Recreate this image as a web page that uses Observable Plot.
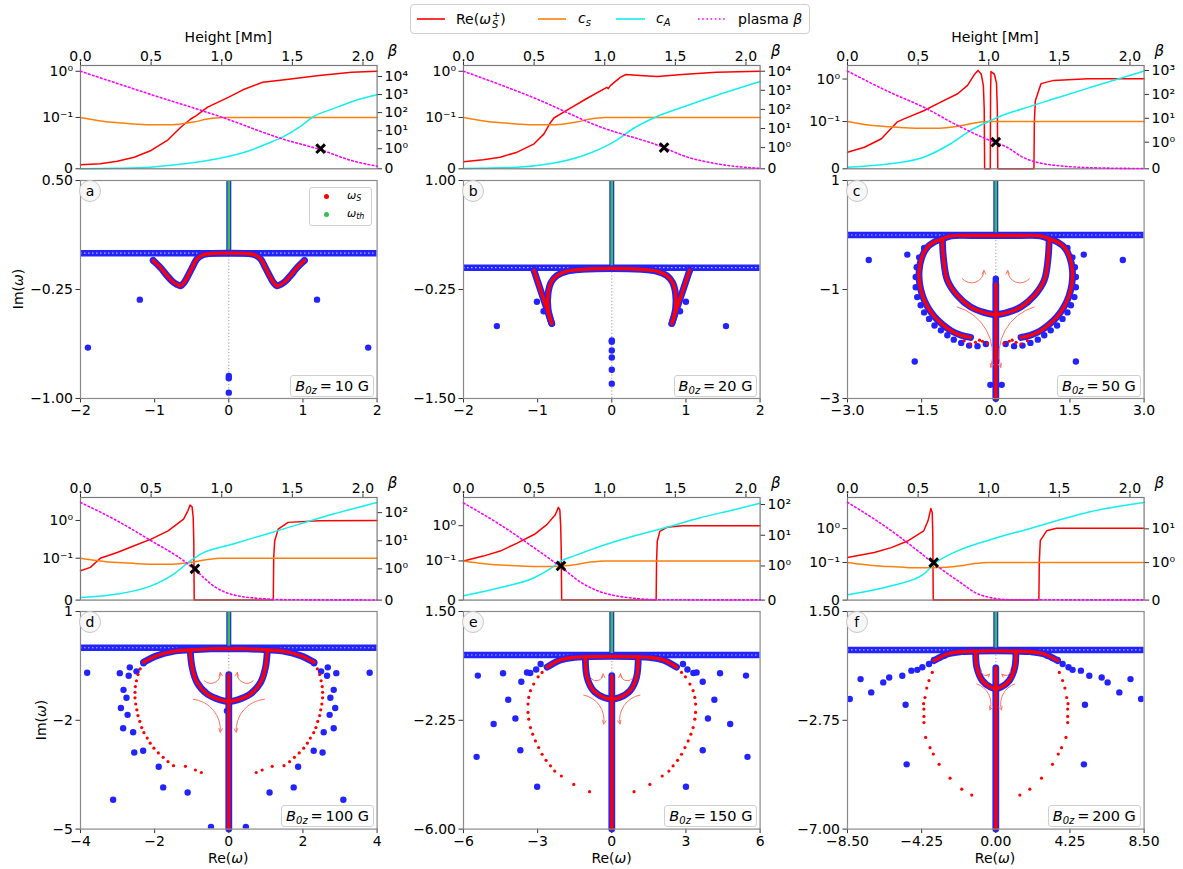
<!DOCTYPE html>
<html><head><meta charset="utf-8">
<script src="https://cdn.jsdelivr.net/npm/d3@7"></script>
<script src="https://cdn.jsdelivr.net/npm/@observablehq/plot@0.6"></script>
<style>
body{margin:0;background:#fff;font-family:"DejaVu Sans",sans-serif;}
#root{position:relative;width:1183px;height:869px;overflow:hidden;background:#fff;}
.abs{position:absolute;}
.lbl{position:absolute;white-space:nowrap;font-size:14px;line-height:1;color:#000;transform:translate(-50%,-50%);}
.sub{font-size:10px;vertical-align:-3px;}
.ss{display:inline-flex;flex-direction:column;font-size:10px;line-height:9px;vertical-align:5px;margin-left:1px;}
</style></head><body><div id="root"></div>
<script>
// ---------------- DATA: vertical profiles (height [Mm], value) ----------------
const heightTicks = [0, 0.5, 1, 1.5, 2];
const speedTicks = [0, 0.1, 1];
const speedTickLabels = ["0", "10\u207B\u00B9", "10\u2070"];
const betaTicks = [0, 1, 10, 100, 1000, 10000];
const betaTickLabels = ["0", "10\u2070", "10\u00B9", "10\u00B2", "10\u00B3", "10\u2074"];

const soundSpeed = [[0,0.1],[0.1,0.095],[0.2,0.091],[0.3,0.089],[0.4,0.087],[0.5,0.0858],[0.6,0.0857],[0.7,0.087],[0.8,0.091],[0.9,0.097],[1.0,0.1],[1.5,0.1],[2.1,0.1]];

const reOmegaA = [[0,0.0078],[0.14,0.0097],[0.26,0.0148],[0.38,0.0226],[0.5,0.0357],[0.62,0.0565],[0.71,0.081],[0.78,0.097],[0.82,0.11],[0.9,0.167],[1.05,0.275],[1.15,0.397],[1.29,0.58],[1.43,0.65],[1.69,0.81],[1.92,0.95],[2.1,1.0]];
const alfvenA = [[0,0.0003],[0.25,0.001],[0.5,0.0032],[0.73,0.0097],[0.97,0.0195],[1.2,0.0357],[1.32,0.0487],[1.43,0.0616],[1.55,0.081],[1.65,0.105],[1.79,0.155],[1.93,0.225],[2.1,0.31]];
const betaA = [[0,19500],[0.5,1000],[1.0,56],[1.43,3.5],[1.7,0.95],[1.92,0.41],[2.1,0.13]];
const betaOneA = [[1.70, 1]];

const reOmegaB = [[0,0.0136],[0.14,0.0175],[0.26,0.0226],[0.38,0.0324],[0.5,0.0487],[0.57,0.068],[0.61,0.0877],[0.64,0.099],[0.73,0.142],[0.87,0.254],[1.015,0.45],[1.025,0.42],[1.04,0.49],[1.11,0.74],[1.15,0.85],[1.25,0.81],[1.37,0.77],[1.55,0.85],[1.79,0.95],[2.1,1.0]];
const alfvenB = [[0,0.0005],[0.38,0.003],[0.61,0.0097],[0.85,0.026],[1.08,0.055],[1.2,0.078],[1.37,0.105],[1.55,0.167],[1.79,0.30],[2.1,0.60]];
const betaB = [[0,10000],[0.5,400],[0.97,12],[1.42,1.0],[1.55,0.63],[1.79,0.24],[2.1,0.02]];
const betaOneB = [[1.42, 1]];

const reOmegaC = [[0,0.035],[0.12,0.0457],[0.24,0.0636],[0.35,0.0987],[0.4,0.116],[0.54,0.18],[0.66,0.286],[0.78,0.45],[0.85,0.71],[0.90,1.3],[0.924,1.6],[0.947,1.3],[0.962,0.7],[0.968,0.2],[0.971,0],[1.011,0],[1.013,0.5],[1.016,1.5],[1.04,1.3],[1.055,0.8],[1.061,0.2],[1.064,0],[1.32,0],[1.323,0.1],[1.33,0.31],[1.37,0.78],[1.46,0.93],[1.7,1.02],[2.1,1.02]];
const alfvenC = [[0,0.0034],[0.3,0.0106],[0.54,0.0246],[0.73,0.053],[0.87,0.081],[0.99,0.099],[1.06,0.125],[1.24,0.2],[1.48,0.357],[1.71,0.62],[1.95,1.09],[2.1,1.53]];
const betaC = [[0,940],[0.3,123],[0.54,29],[0.78,5],[1.01,1.17],[1.13,0.81],[1.24,0.44],[1.48,0.124],[1.8,0.03],[2.1,0.01]];
const betaOneC = [[1.05, 1]];

const reOmegaD = [[0,0.07],[0.07,0.078],[0.14,0.1],[0.26,0.142],[0.38,0.213],[0.5,0.32],[0.62,0.53],[0.73,1.09],[0.76,1.8],[0.776,2.56],[0.79,2.3],[0.798,1.2],[0.802,0.3],[0.805,0],[1.365,0],[1.368,0.1],[1.375,0.29],[1.40,0.59],[1.47,0.89],[1.69,0.98],[2.1,1.0]];
const alfvenD = [[0,0.0063],[0.26,0.0143],[0.5,0.034],[0.66,0.062],[0.78,0.094],[0.85,0.128],[1.08,0.237],[1.32,0.44],[1.55,0.80],[1.79,1.48],[2.1,3.0]];
const betaD = [[0,230],[0.26,51],[0.5,10],[0.73,1.95],[0.81,0.97],[0.96,0.40],[1.19,0.084],[1.5,0.01],[2.1,0.005]];
const betaOneD = [[0.81, 1]];

const reOmegaE = [[0,0.1],[0.14,0.137],[0.26,0.19],[0.38,0.32],[0.5,0.56],[0.59,1.07],[0.65,2.04],[0.672,3.3],[0.682,2.8],[0.688,1.0],[0.692,0.2],[0.695,0],[1.364,0],[1.367,0.1],[1.372,0.36],[1.39,0.69],[1.44,0.9],[1.55,1.0],[2.1,1.0]];
const alfvenE = [[0,0.011],[0.26,0.032],[0.5,0.057],[0.61,0.079],[0.69,0.1],[0.78,0.137],[0.97,0.26],[1.2,0.5],[1.44,0.9],[1.67,1.65],[1.91,2.8],[2.1,4.3]];
const betaE = [[0,112],[0.26,22],[0.5,3.9],[0.68,1.0],[0.85,0.47],[1.08,0.126],[1.4,0.01],[2.1,0.005]];
const betaOneE = [[0.69, 1]];

const reOmegaF = [[0,0.14],[0.19,0.196],[0.31,0.275],[0.43,0.44],[0.54,0.86],[0.57,1.7],[0.59,3.9],[0.6,3.0],[0.604,0.6],[0.607,0],[1.355,0],[1.358,0.1],[1.365,0.44],[1.41,0.86],[1.48,1.03],[2.1,1.03]];
const alfvenF = [[0,0.014],[0.31,0.038],[0.54,0.069],[0.61,0.095],[0.78,0.22],[1.01,0.47],[1.25,0.9],[1.48,1.7],[1.71,3.1],[2.1,5.9]];
const betaF = [[0,61],[0.31,8.8],[0.5,2.2],[0.61,0.98],[0.78,0.52],[0.94,0.14],[1.15,0.01],[2.1,0.005]];
const betaOneF = [[0.61, 1]];

// ---------------- DATA: complex-frequency spectra (Re, Im) ----------------
const specLinesA = [[[-1.02,-0.05],[-0.92,-0.10],[-0.84,-0.15],[-0.76,-0.195],[-0.70,-0.215],[-0.65,-0.225],[-0.60,-0.20],[-0.56,-0.165],[-0.49,-0.096],[-0.43,-0.04],[-0.35,-0.012],[-0.25,-0.003],[0,0],[0.25,-0.003],[0.35,-0.012],[0.43,-0.04],[0.49,-0.096],[0.56,-0.165],[0.60,-0.20],[0.65,-0.225],[0.70,-0.215],[0.76,-0.195],[0.84,-0.15],[0.92,-0.10],[1.02,-0.05]]];
const blueDotsA = [[-1.02,-0.05],[1.02,-0.05],[-1.20,-0.32],[1.19,-0.32],[-1.90,-0.65],[1.88,-0.65],[0,-0.845],[0,-0.86],[0,-0.96]];
const redDotsA = [];

const specLinesB = [
  [[-1.05,-0.03],[-0.81,-0.64]],
  [[-0.81,-0.64],[-0.86,-0.47],[-0.86,-0.30],[-0.82,-0.17],[-0.74,-0.09],[-0.60,-0.04],[-0.40,-0.02],[0,-0.01],[0.40,-0.02],[0.60,-0.04],[0.74,-0.09],[0.82,-0.17],[0.86,-0.30],[0.86,-0.47],[0.81,-0.64]],
  [[1.05,-0.03],[0.81,-0.64]]];
const blueDotsB = [[-1.05,-0.03],[1.05,-0.03],[-1.01,-0.39],[1.00,-0.39],[-0.92,-0.50],[0.92,-0.50],[-1.55,-0.67],[1.54,-0.67],[0,-0.835],[0,-0.85],[0,-0.95],[0,-1.03],[0,-1.17],[0,-1.33]];
const redDotsB = [];

const specLinesC = [
  [[-1.08,-0.07],[-0.9,-0.015],[-0.5,-0.01],[0,-0.01],[0.5,-0.01],[0.9,-0.015],[1.08,-0.07]],
  [[-1.08,-0.07],[-1.06,-0.41],[-0.98,-0.83],[-0.78,-1.11],[-0.51,-1.32],[-0.24,-1.42],[0,-1.46],[0.24,-1.42],[0.51,-1.32],[0.78,-1.11],[0.98,-0.83],[1.06,-0.41],[1.08,-0.07]],
  [[-1.08,-0.07],[-1.25,-0.13],[-1.40,-0.24],[-1.50,-0.42],[-1.55,-0.65],[-1.54,-0.90],[-1.48,-1.12],[-1.38,-1.32],[-1.24,-1.50],[-1.08,-1.64],[-0.90,-1.76],[-0.70,-1.84],[-0.51,-1.88]],
  [[1.08,-0.07],[1.25,-0.13],[1.40,-0.24],[1.50,-0.42],[1.55,-0.65],[1.54,-0.90],[1.48,-1.12],[1.38,-1.32],[1.24,-1.50],[1.08,-1.64],[0.90,-1.76],[0.70,-1.84],[0.51,-1.88]],
  [[0,-0.90],[0,-3]]];
const blueDotsC = [[-1.45,-0.24],[-1.55,-0.41],[-1.60,-0.59],[-1.62,-0.77],[-1.62,-0.96],[-1.59,-1.14],[-1.52,-1.29],[-1.45,-1.42],[-1.35,-1.54],[-1.24,-1.66],[-1.11,-1.75],[-0.98,-1.84],[-0.85,-1.92],[-0.70,-1.98],[-0.54,-2.03],[-0.37,-2.04],[-0.20,-2.00],
  [1.45,-0.24],[1.55,-0.41],[1.60,-0.59],[1.62,-0.77],[1.62,-0.96],[1.59,-1.14],[1.52,-1.29],[1.45,-1.42],[1.35,-1.54],[1.24,-1.66],[1.11,-1.75],[0.98,-1.84],[0.85,-1.92],[0.70,-1.98],[0.54,-2.03],[0.37,-2.04],[0.20,-2.00],
  [-1.79,-0.36],[1.78,-0.36],[-2.57,-0.46],[2.57,-0.46],[-1.64,-2.32],[1.62,-2.32],[-0.11,-2.75],[0.12,-2.75],[0,-0.80],[0,-0.85]];
const redDotsC = [[-0.64,-1.94],[-0.51,-2.0],[-0.41,-1.97],[-0.33,-1.93],[-0.27,-1.95],[-0.17,-1.99],[0.17,-1.99],[0.27,-1.95],[0.33,-1.93],[0.41,-1.97],[0.51,-2.0],[0.64,-1.94]];
const arrowsUpC = [[-0.68,-0.80,-0.24,-0.65],[0.68,-0.80,0.24,-0.65]];
const arrowsDownC = [[-0.78,-1.32,-0.10,-2.43],[0.78,-1.32,0.10,-2.43]];

const specLinesD = [
  [[-2.30,-0.40],[-1.94,-0.22],[-1.5,-0.1],[-1.04,-0.06],[-0.5,-0.03],[0,-0.03],[0.5,-0.03],[1.04,-0.06],[1.5,-0.1],[1.94,-0.22],[2.30,-0.40]],
  [[-1.04,-0.06],[-0.99,-0.54],[-0.86,-0.95],[-0.59,-1.27],[-0.23,-1.44],[0,-1.48],[0.23,-1.44],[0.59,-1.27],[0.86,-0.95],[0.99,-0.54],[1.04,-0.06]],
  [[0,-0.74],[0,-5]]];
const blueDotsD = [[-3.82,-0.69],[-2.94,-0.70],[-2.70,-0.77],[-2.49,-0.65],[-2.30,-0.43],[-2.67,-0.54],[-2.84,-1.16],[-2.76,-1.38],[-2.91,-1.66],[-2.73,-1.85],[-2.85,-2.22],[-2.58,-2.33],[-2.55,-2.89],[-2.31,-2.84],[-1.89,-3.28],[-1.77,-3.85],[-1.11,-3.99],[-3.12,-4.19],[-0.48,-4.94],
  [3.80,-0.69],[2.90,-0.70],[2.65,-0.77],[2.49,-0.65],[2.30,-0.43],[2.67,-0.54],[2.83,-1.16],[2.74,-1.38],[2.87,-1.66],[2.72,-1.85],[2.83,-2.22],[2.56,-2.33],[2.53,-2.89],[2.29,-2.84],[1.87,-3.28],[1.75,-3.85],[1.10,-3.99],[3.09,-4.19],[0.46,-4.94],[-0.05,-1.74]];
const redDotsD = [[-2.39,-0.58],[-2.45,-0.74],[-2.49,-0.91],[-2.52,-1.07],[-2.53,-1.23],[-2.53,-1.38],[-2.51,-1.55],[-2.48,-1.71],[-2.45,-1.87],[-2.40,-2.03],[-2.35,-2.20],[-2.29,-2.34],[-2.20,-2.49],[-2.12,-2.63],[-2.02,-2.77],[-1.90,-2.90],[-1.77,-3.02],[-1.64,-3.14],[-1.49,-3.25],[-1.17,-3.27],[-0.90,-3.37],[-0.74,-3.44],
  [2.39,-0.58],[2.45,-0.74],[2.49,-0.91],[2.52,-1.07],[2.53,-1.23],[2.53,-1.38],[2.51,-1.55],[2.48,-1.71],[2.45,-1.87],[2.40,-2.03],[2.35,-2.20],[2.29,-2.34],[2.20,-2.49],[2.12,-2.63],[2.02,-2.77],[1.90,-2.90],[1.77,-3.02],[1.64,-3.14],[1.49,-3.25],[1.17,-3.27],[0.90,-3.37],[0.74,-3.44]];
const arrowsUpD = [[-0.66,-0.91,-0.23,-0.68],[0.66,-0.91,0.23,-0.68]];
const arrowsDownD = [[-0.96,-1.42,-0.23,-2.33],[0.96,-1.42,0.20,-2.33]];

const specLinesE = [
  [[-2.62,-0.42],[-2.08,-0.17],[-1.5,-0.08],[-1.07,-0.06],[0,-0.05],[1.07,-0.06],[1.5,-0.08],[2.08,-0.17],[2.62,-0.42]],
  [[-1.07,-0.06],[-1.0,-0.77],[-0.74,-1.23],[-0.33,-1.46],[0,-1.52],[0.33,-1.46],[0.74,-1.23],[1.0,-0.77],[1.07,-0.06]],
  [[0,-0.71],[0,-6]]];
const blueDotsE = [[-5.42,-0.71],[-4.40,-0.63],[-3.43,-0.60],[-3.30,-0.62],[-3.06,-0.50],[-2.88,-0.31],[-3.66,-0.92],[-4.19,-1.54],[-3.90,-2.19],[-4.78,-2.38],[-3.70,-3.28],[-5.47,-3.51],[-3.02,-4.54],
  [5.43,-0.71],[4.38,-0.63],[3.43,-0.60],[3.30,-0.62],[3.06,-0.50],[2.88,-0.31],[3.68,-0.92],[4.15,-1.54],[3.89,-2.19],[4.79,-2.38],[3.68,-3.28],[5.49,-3.51],[3.00,-4.54]];
const redDotsE = [[-2.82,-0.60],[-2.98,-0.75],[-3.16,-1.00],[-3.29,-1.23],[-3.36,-1.46],[-3.39,-1.69],[-3.39,-1.98],[-3.36,-2.21],[-3.29,-2.50],[-3.20,-2.73],[-3.09,-2.96],[-2.96,-3.19],[-2.82,-3.42],[-2.66,-3.63],[-2.48,-3.82],[-2.31,-4.00],[-2.04,-4.17],[-1.54,-4.46],[-0.90,-4.71],
  [2.82,-0.60],[2.98,-0.75],[3.16,-1.00],[3.29,-1.23],[3.36,-1.46],[3.39,-1.69],[3.39,-1.98],[3.36,-2.21],[3.29,-2.50],[3.20,-2.73],[3.09,-2.96],[2.96,-3.19],[2.82,-3.42],[2.66,-3.63],[2.48,-3.82],[2.31,-4.00],[2.04,-4.17],[1.54,-4.46],[0.90,-4.71]];
const arrowsUpE = [[-0.85,-0.80,-0.35,-0.65],[0.85,-0.80,0.35,-0.65]];
const arrowsDownE = [[-1.14,-1.38,-0.33,-2.38],[1.14,-1.38,0.33,-2.38]];

const specLinesF = [
  [[-3.54,-0.42],[-2.77,-0.16],[-2.0,-0.07],[-1.15,-0.05],[0,-0.04],[1.15,-0.05],[2.0,-0.07],[2.77,-0.16],[3.54,-0.42]],
  [[-1.15,-0.05],[-1.09,-0.68],[-0.77,-1.20],[-0.29,-1.46],[0,-1.51],[0.29,-1.46],[0.77,-1.20],[1.09,-0.68],[1.15,-0.05]],
  [[0,-0.70],[0,-7]]];
const blueDotsF = [[-8.37,-1.92],[-7.75,-1.14],[-7.14,-1.66],[-6.45,-1.27],[-6.11,-1.08],[-5.36,-1.01],[-5.17,-2.14],[-4.84,-0.81],[-4.50,-0.78],[-4.21,-0.68],[-3.83,-0.55],[-3.54,-0.39],[-3.25,-0.32],[-2.96,-0.23],[-5.11,-4.47],
  [8.33,-1.92],[7.72,-1.14],[7.08,-1.66],[6.41,-1.27],[6.07,-1.08],[5.36,-1.01],[5.11,-2.14],[4.88,-0.81],[4.40,-0.78],[4.17,-0.68],[3.83,-0.55],[3.54,-0.39],[3.25,-0.32],[2.96,-0.23],[5.05,-4.47]];
const redDotsF = [[-3.64,-0.88],[-3.83,-1.20],[-3.96,-1.49],[-4.06,-1.86],[-4.14,-2.10],[-4.12,-2.31],[-4.12,-2.60],[-4.12,-2.84],[-4.02,-3.42],[-3.77,-3.82],[-3.58,-4.07],[-3.25,-4.47],[-2.62,-5.01],[-1.95,-5.44],[-1.38,-5.67],
  [3.64,-0.88],[3.83,-1.20],[3.96,-1.49],[4.06,-1.86],[4.14,-2.10],[4.12,-2.31],[4.12,-2.60],[4.12,-2.84],[4.02,-3.42],[3.77,-3.82],[3.58,-4.07],[3.25,-4.47],[2.62,-5.01],[1.95,-5.44],[1.38,-5.67]];
const arrowsUpF = [[-0.85,-0.78,-0.35,-0.95],[0.85,-0.78,0.35,-0.95]];
const arrowsDownF = [[-1.09,-1.33,-0.33,-2.35],[1.09,-1.33,0.33,-2.35]];

const fieldStrength = ["10", "20", "50", "100", "150", "200"];
const panelLetters = ["a", "b", "c", "d", "e", "f"];

// ---------------- LAYOUT / STYLE ----------------
const RED = "#ff0000", ORANGE = "#ff7f0e", CYAN = "#14eeee", MAGENTA = "#ff00ff";
const BLUE = "#2323ff", GREEN = "#33c24a", ARROW = "#ff7260", FRAME = "#7a7a7a";
const FW = 296.6;
const colLeft = [80, 463.3, 846.7];
const profTop = [65, 496.7], profH = [103.3, 102.6];
const specTop = [180, 610.7], specH = [218, 217.6];
const M = {l: 70, r: 70, t: 40, b: 40};
const root = document.getElementById("root");

function symlog(v, thr) {
  const lin = 1 / (1 - 0.1);
  const a = Math.abs(v);
  const u = a <= thr ? (a / thr) * lin : lin + Math.log10(a / thr);
  return v < 0 ? -u : u;
}
function lookupFormat(ticks, labels) {
  return d => { const k = ticks.findIndex(t => Math.abs(t - d) < 1e-6); return k < 0 ? "" : labels[k]; };
}
function fixedFmt(n) { return d => (d < 0 ? "\u2212" : "") + Math.abs(d).toFixed(n); }
const plotStyle = {background: "transparent", overflow: "visible", maxWidth: "none", fontFamily: "'DejaVu Sans', sans-serif", fontSize: "14px", color: "#000"};

function place(svg, left, top, w, h) {
  const d = document.createElement("div");
  d.className = "abs";
  d.style.left = (left - M.l) + "px";
  d.style.top = (top - M.t) + "px";
  d.style.width = w + "px";
  d.style.height = h + "px";
  d.appendChild(svg);
  root.appendChild(d);
}
function html(left, top, content, css) {
  const d = document.createElement("div");
  d.className = "abs";
  d.style.left = left + "px"; d.style.top = top + "px";
  d.style.cssText += css || "";
  d.innerHTML = content;
  root.appendChild(d);
  return d;
}
function label(content, cx, cy, rot, css) {
  const d = document.createElement("div");
  d.className = "lbl";
  d.style.left = cx + "px"; d.style.top = cy + "px";
  if (rot) d.style.transform = "translate(-50%,-50%) rotate(" + rot + "deg)";
  d.style.cssText += css || "";
  d.innerHTML = content;
  root.appendChild(d);
}

const profiles = [
  {re: reOmegaA, ca: alfvenA, beta: betaA, mark: betaOneA, leftMax: 2.236, rightMax: 5.72, nBeta: 6},
  {re: reOmegaB, ca: alfvenB, beta: betaB, mark: betaOneB, leftMax: 2.236, rightMax: 5.41, nBeta: 6},
  {re: reOmegaC, ca: alfvenC, beta: betaC, mark: betaOneC, leftMax: 2.43, rightMax: 4.32, nBeta: 5},
  {re: reOmegaD, ca: alfvenD, beta: betaD, mark: betaOneD, leftMax: 2.72, rightMax: 3.65, nBeta: 4},
  {re: reOmegaE, ca: alfvenE, beta: betaE, mark: betaOneE, leftMax: 2.91, rightMax: 3.34, nBeta: 4},
  {re: reOmegaF, ca: alfvenF, beta: betaF, mark: betaOneF, leftMax: 3.03, rightMax: 3.04, nBeta: 3}
];
const spectra = [
  {lines: specLinesA, blue: blueDotsA, red: redDotsA, up: [], down: [], x: [-2, 2], y: [-1, 0.5], xt: [-2,-1,0,1,2], xf: 0, yt: [0.5,-0.25,-1], yf: 2},
  {lines: specLinesB, blue: blueDotsB, red: redDotsB, up: [], down: [], x: [-2, 2], y: [-1.5, 1], xt: [-2,-1,0,1,2], xf: 0, yt: [1,-0.25,-1.5], yf: 2},
  {lines: specLinesC, blue: blueDotsC, red: redDotsC, up: arrowsUpC, down: arrowsDownC, x: [-3, 3], y: [-3, 1], xt: [-3,-1.5,0,1.5,3], xf: 1, yt: [1,-1,-3], yf: 0},
  {lines: specLinesD, blue: blueDotsD, red: redDotsD, up: arrowsUpD, down: arrowsDownD, x: [-4, 4], y: [-5, 1], xt: [-4,-2,0,2,4], xf: 0, yt: [1,-2,-5], yf: 0},
  {lines: specLinesE, blue: blueDotsE, red: redDotsE, up: arrowsUpE, down: arrowsDownE, x: [-6, 6], y: [-6, 1.5], xt: [-6,-3,0,3,6], xf: 0, yt: [1.5,-2.25,-6], yf: 2},
  {lines: specLinesF, blue: blueDotsF, red: redDotsF, up: arrowsUpF, down: arrowsDownF, x: [-8.5, 8.5], y: [-7, 1.5], xt: [-8.5,-4.25,0,4.25,8.5], xf: 2, yt: [1.5,-2.75,-7], yf: 2}
];

const sTicks = speedTicks.map(t => symlog(t, 0.1));
const bTicksAll = betaTicks.map(t => symlog(t, 1));

profiles.forEach((p, i) => {
  const row = Math.floor(i / 3), col = i % 3;
  const left = colLeft[col], top = profTop[row], H = profH[row];
  const W = FW + M.l + M.r, HH = H + M.t + M.b;
  const common = {width: W, height: HH, marginLeft: M.l, marginRight: M.r, marginTop: M.t, marginBottom: M.b, style: plotStyle};
  const main = Plot.plot({...common,
    x: {domain: [0, 2.1], axis: null},
    y: {domain: [0, p.leftMax], axis: null},
    marks: [
      Plot.line(p.re, {x: d => d[0], y: d => symlog(d[1], 0.1), stroke: RED, strokeWidth: 1.5}),
      Plot.line(soundSpeed, {x: d => d[0], y: d => symlog(d[1], 0.1), stroke: ORANGE, strokeWidth: 1.5, curve: "monotone-x"}),
      Plot.line(p.ca, {x: d => d[0], y: d => symlog(d[1], 0.1), stroke: CYAN, strokeWidth: 1.5, curve: "monotone-x"}),
      Plot.axisY({anchor: "left", ticks: sTicks, tickFormat: lookupFormat(sTicks, speedTickLabels), tickSize: 4.5, tickPadding: 3, label: null, stroke: "#333"}),
      Plot.axisX({anchor: "top", ticks: heightTicks, tickFormat: d => d.toFixed(1), tickSize: 4.5, tickPadding: 0, label: null, stroke: "#333"}),
      Plot.frame({stroke: FRAME, strokeWidth: 1.2})
    ]});
  place(main, left, top, W, HH);
  const bt = bTicksAll.slice(0, p.nBeta);
  const over = Plot.plot({...common,
    x: {domain: [0, 2.1], axis: null},
    y: {domain: [0, p.rightMax], axis: null},
    marks: [
      Plot.line(p.beta, {x: d => d[0], y: d => symlog(d[1], 1), stroke: MAGENTA, strokeWidth: 1.6, strokeDasharray: "1.6,2.6", curve: "monotone-x"}),
      Plot.dot(p.mark, {x: d => d[0], y: d => symlog(d[1], 1), symbol: "times", r: 4, stroke: "#000", strokeWidth: 3}),
      Plot.axisY({anchor: "right", ticks: bt, tickFormat: lookupFormat(bt, betaTickLabels.slice(0, p.nBeta)), tickSize: 4.5, tickPadding: 3, label: null, stroke: "#333"})
    ]});
  place(over, left, top, W, HH);
  label("<i>\u03B2</i>", left + FW + 16, row === 0 ? 51 : 483, 0, "font-size:15px;");
});

spectra.forEach((s, i) => {
  const row = Math.floor(i / 3), col = i % 3;
  const left = colLeft[col], top = specTop[row], H = specH[row];
  const W = FW + M.l + M.r, HH = H + M.t + M.b;
  const rows = s.lines.flatMap((seg, k) => seg.map(([x, y]) => ({x, y, z: k})));
  const topY = s.y[1], botY = s.y[0];
  const arrowMarks = [];
  // Plot bends clockwise for positive angles: upper arrows turn upward (counter-clockwise on the left),
  // lower arrows turn downward (clockwise on the left); right-hand arrows are mirrored.
  [[s.up, 70, -1], [s.down, 45, 1]].forEach(([arr, bend, sgn]) => {
    const opts = {x1: d => d[0], y1: d => d[1], x2: d => d[2], y2: d => d[3], stroke: ARROW, strokeWidth: 1, headLength: 6, headAngle: 50};
    arrowMarks.push(Plot.arrow(arr.filter(d => d[0] < 0), {...opts, bend: sgn * bend}));
    arrowMarks.push(Plot.arrow(arr.filter(d => d[0] > 0), {...opts, bend: -sgn * bend}));
  });
  const svg = Plot.plot({
    width: W, height: HH, marginLeft: M.l, marginRight: M.r, marginTop: M.t, marginBottom: M.b, style: plotStyle,
    x: {domain: s.x, axis: null},
    y: {domain: s.y, axis: null},
    marks: [
      Plot.ruleX([{x: 0, y1: botY, y2: 0}], {x: "x", y1: "y1", y2: "y2", stroke: "#999", strokeWidth: 1, strokeDasharray: "1.2,2"}),
      Plot.ruleY([0], {stroke: BLUE, strokeWidth: 6.5}),
      Plot.ruleY([0], {stroke: "#b0b6ff", strokeWidth: 1.2, strokeDasharray: "1.5,2.5"}),
      Plot.ruleX([{x: 0, y1: 0, y2: topY}], {x: "x", y1: "y1", y2: "y2", stroke: BLUE, strokeWidth: 5}),
      Plot.ruleX([{x: 0, y1: 0, y2: topY}], {x: "x", y1: "y1", y2: "y2", stroke: GREEN, strokeWidth: 2.6}),
      Plot.line(rows, {x: "x", y: "y", z: "z", stroke: BLUE, strokeWidth: 6.8, curve: "catmull-rom", strokeLinecap: "round"}),
      Plot.dot(s.blue, {x: d => d[0], y: d => d[1], r: 3.2, fill: BLUE, clip: true}),
      Plot.line(rows, {x: "x", y: "y", z: "z", stroke: RED, strokeWidth: 3.4, curve: "catmull-rom", strokeLinecap: "round"}),
      Plot.dot(s.red, {x: d => d[0], y: d => d[1], r: 1.6, fill: RED}),
      ...arrowMarks,
      Plot.axisX({anchor: "bottom", ticks: s.xt, tickFormat: fixedFmt(s.xf), tickSize: 4.5, tickPadding: 2, label: null, stroke: "#333"}),
      Plot.axisY({anchor: "left", ticks: s.yt, tickFormat: fixedFmt(s.yf), tickSize: 4.5, tickPadding: 3, label: null, stroke: "#333"}),
      Plot.frame({stroke: "#8a8a8a", strokeWidth: 1.2})
    ]});
  place(svg, left, top, W, HH);
  // panel letter in circle
  html(left + 9.5 - 10.5, top + 10.7 - 10.5, panelLetters[i],
    "width:20px;height:20px;border:1px solid #c8c8c8;border-radius:50%;background:#f7f7f7;font-size:14px;line-height:20px;text-align:center;");
  // field-strength box
  const b = html(0, 0, "<i>B</i><span class='sub'><i>0z</i></span>&thinsp;=&thinsp;" + fieldStrength[i] + " G",
    "height:20px;line-height:20px;padding:0 4px;border:1px solid #d0d0d0;border-radius:3px;background:rgba(255,255,255,0.9);font-size:14.5px;white-space:nowrap;");
  b.style.left = "";
  b.style.right = (1183 - (left + FW) + 2.5) + "px";
  b.style.top = (top + H - 23.5) + "px";
  if (row === 1) label("Re(<i>\u03C9</i>)", left + FW / 2, 858);
});

// axis titles
label("Height [Mm]", colLeft[0] + FW / 2, 37);
label("Height [Mm]", colLeft[2] + FW / 2, 37);
label("Im(<i>\u03C9</i>)", 17.5, 289, -90);
label("Im(<i>\u03C9</i>)", 41, 719.5, -90);

// legend inside panel a
html(309, 186.7,
  "<div style='position:relative;width:61px;height:37px;'>" +
  "<span style='position:absolute;left:13.5px;top:6px;width:5px;height:5px;border-radius:50%;background:" + RED + "'></span>" +
  "<span style='position:absolute;left:37px;top:1px;font-size:11px;'><i>\u03C9</i><span style='font-size:8px;vertical-align:-2px'><i>S</i></span></span>" +
  "<span style='position:absolute;left:13.5px;top:24px;width:5px;height:5px;border-radius:50%;background:" + GREEN + "'></span>" +
  "<span style='position:absolute;left:37px;top:19px;font-size:11px;'><i>\u03C9</i><span style='font-size:8px;vertical-align:-2px'><i>th</i></span></span></div>",
  "border:1px solid #d0d0d0;border-radius:3px;background:rgba(255,255,255,0.9);");

// figure legend
const lg = html(410, 4, "", "width:398px;height:28px;border:1px solid #d0d0d0;border-radius:4px;background:#fff;");
lg.innerHTML =
  "<svg width='398' height='28' style='position:absolute;left:0;top:0'>" +
  "<line x1='6' y1='14' x2='34' y2='14' stroke='" + RED + "' stroke-width='1.6'/>" +
  "<line x1='127' y1='14' x2='155' y2='14' stroke='" + ORANGE + "' stroke-width='1.6'/>" +
  "<line x1='205' y1='14' x2='234' y2='14' stroke='" + CYAN + "' stroke-width='1.6'/>" +
  "<line x1='287' y1='14' x2='315' y2='14' stroke='" + MAGENTA + "' stroke-width='1.6' stroke-dasharray='1.6,2.6'/></svg>" +
  "<div style='position:absolute;left:45px;top:6px;font-size:14px;line-height:16px;white-space:nowrap'>Re(<i>\u03C9</i><span class='ss'><span>+</span><span><i>S</i></span></span>)</div>" +
  "<div style='position:absolute;left:167px;top:5px;font-size:14px;line-height:16px'><i>c</i><span class='sub'><i>s</i></span></div>" +
  "<div style='position:absolute;left:245px;top:5px;font-size:14px;line-height:16px'><i>c</i><span class='sub'><i>A</i></span></div>" +
  "<div style='position:absolute;left:327px;top:6px;font-size:14px;line-height:16px;white-space:nowrap'>plasma <i>\u03B2</i></div>";
</script></body></html>
